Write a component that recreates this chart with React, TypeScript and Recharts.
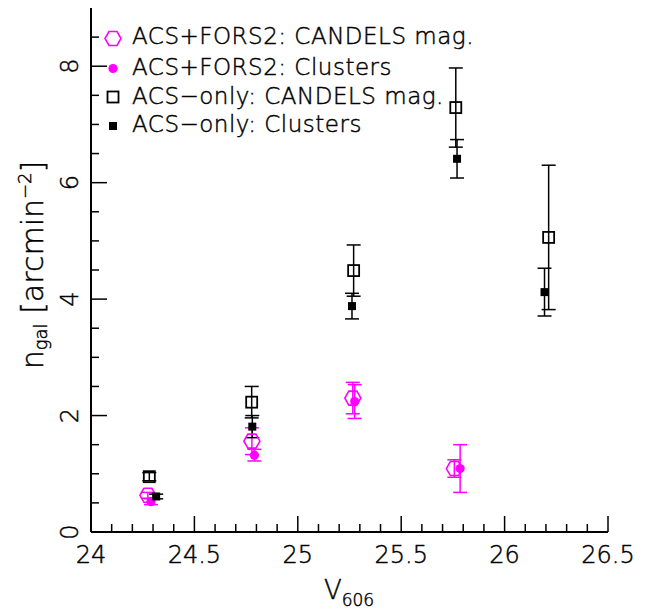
import React from 'react';
import { ScatterChart, Scatter, XAxis, YAxis, ErrorBar, Legend } from 'recharts';

// ---- data ----
const hexX = [24.275, 24.778, 25.266, 25.757];
const hexY = [0.63, 1.56, 2.3, 1.09];
const hexErr = [0.05, 0.23, 0.27, 0.15];

const circX = [24.29, 24.79, 25.275, 25.785];
const circY = [0.52, 1.32, 2.24, 1.09];
const circErr = [0.05, 0.1, 0.29, 0.41];

const osqX = [24.282, 24.777, 25.27, 25.764, 26.213];
const osqY = [0.95, 2.23, 4.49, 7.29, 5.06];
const osqErr = [0.07, 0.27, 0.44, 0.68, 1.24];

const fsqX = [24.315, 24.78, 25.262, 25.77, 26.193];
const fsqY = [0.61, 1.81, 3.88, 6.41, 4.12];
const fsqErr = [0.04, 0.19, 0.22, 0.33, 0.41];

const xMajorTicks = [24, 24.5, 25, 25.5, 26, 26.5];
const xMinorTicks = [24.1, 24.2, 24.3, 24.4, 24.6, 24.7, 24.8, 24.9, 25.1, 25.2, 25.3, 25.4, 25.6, 25.7, 25.8, 25.9, 26.1, 26.2, 26.3, 26.4];
const yMajorTicks = [0, 2, 4, 6, 8];
const yMinorTicks = [0.5, 1, 1.5, 2.5, 3, 3.5, 4.5, 5, 5.5, 6.5, 7, 7.5, 8.5];

const legendLabels = [
  'ACS+FORS2: CANDELS mag.',
  'ACS+FORS2: Clusters',
  'ACS\u2212only: CANDELS mag.',
  'ACS\u2212only: Clusters',
];

const MAGENTA = '#ff00ff';
const BLACK = '#000000';
const FONT = '"DejaVu Sans", sans-serif';
const WEIGHT = 200;
const TXT_STROKE = 0.45;

const rows = (xs: number[], ys: number[], es: number[]) =>
  xs.map((x, i) => ({ x, y: ys[i], err: es[i] }));

const hexData = rows(hexX, hexY, hexErr);
const circData = rows(circX, circY, circErr);
const osqData = rows(osqX, osqY, osqErr);
const fsqData = rows(fsqX, fsqY, fsqErr);

const xTicks = [...xMajorTicks, ...xMinorTicks].sort((a, b) => a - b);
const yTicks = [...yMajorTicks, ...yMinorTicks].sort((a, b) => a - b);

const isMajor = (v: number, majors: number[]) => majors.some((m) => Math.abs(m - v) < 1e-6);

// ---- marker shapes ----
const hexPath = (cx: number, cy: number) =>
  `M${cx - 8},${cy} L${cx - 4},${cy - 7} L${cx + 4},${cy - 7} L${cx + 8},${cy} L${cx + 4},${cy + 7} L${cx - 4},${cy + 7} Z`;

const HexShape = (p: any) => (
  <path d={hexPath(p.cx, p.cy)} fill="none" stroke={MAGENTA} strokeWidth={1.6} />
);
const CircShape = (p: any) => <circle cx={p.cx} cy={p.cy} r={4.6} fill={MAGENTA} />;
const OSqShape = (p: any) => (
  <rect x={p.cx - 5.5} y={p.cy - 5.5} width={11} height={11} fill="none" stroke={BLACK} strokeWidth={1.8} />
);
const FSqShape = (p: any) => <rect x={p.cx - 4} y={p.cy - 4} width={8} height={8} fill={BLACK} />;

const shapes = [HexShape, CircShape, OSqShape, FSqShape];

const txt = { fontFamily: FONT, fontWeight: WEIGHT, fill: BLACK, stroke: BLACK, strokeWidth: TXT_STROKE };

// ---- tick renderers ----
const BottomTick = (p: any) => {
  const { x, y, payload } = p;
  const major = isMajor(payload.value, xMajorTicks);
  return (
    <g>
      <line x1={x} x2={x} y1={y} y2={y - (major ? 16 : 8)} stroke={BLACK} strokeWidth={1.5} />
      {major && (
        <text x={x} y={y + 31} textAnchor="middle" fontSize={24} {...txt}>
          {String(payload.value)}
        </text>
      )}
    </g>
  );
};
const TopTick = (p: any) => {
  const { x, y, payload } = p;
  const major = isMajor(payload.value, xMajorTicks);
  return <line x1={x} x2={x} y1={y} y2={y + (major ? 16 : 8)} stroke={BLACK} strokeWidth={1.5} />;
};
const LeftTick = (p: any) => {
  const { x, y, payload } = p;
  const major = isMajor(payload.value, yMajorTicks);
  return (
    <g>
      <line x1={x} x2={x + (major ? 16 : 8)} y1={y} y2={y} stroke={BLACK} strokeWidth={1.5} />
      {major && (
        <text
          x={x - 13}
          y={y}
          transform={`rotate(-90, ${x - 13}, ${y})`}
          textAnchor="middle"
          fontSize={24}
          {...txt}
        >
          {String(payload.value)}
        </text>
      )}
    </g>
  );
};
const RightTick = (p: any) => {
  const { x, y, payload } = p;
  const major = isMajor(payload.value, yMajorTicks);
  return <line x1={x} x2={x - (major ? 16 : 8)} y1={y} y2={y} stroke={BLACK} strokeWidth={1.5} />;
};

const XLabel = () => (
  <text x={349} y={599} textAnchor="middle" fontSize={26} {...txt}>
    <tspan>V</tspan>
    <tspan fontSize={17} dy={7}>606</tspan>
  </text>
);

const YLabel = () => (
  <text transform="translate(43, 265) rotate(-90)" textAnchor="middle" fontSize={30} {...txt}>
    <tspan>n</tspan>
    <tspan fontSize={18} dy={4}>gal</tspan>
    <tspan dy={-4}> [arcmin</tspan>
    <tspan fontSize={18} dy={-12}>{'\u22122'}</tspan>
    <tspan dy={12}>]</tspan>
  </text>
);

const legendMarkerY = [38.5, 68.5, 97, 126];
const legendBaseY = [43.5, 75, 103.5, 132];

const LegendContent = () => (
  <svg width={560} height={145} style={{ display: 'block' }}>
    {legendLabels.map((lab, i) => {
      const Shape = shapes[i];
      return (
        <g key={lab}>
          <Shape cx={113} cy={legendMarkerY[i]} />
          <text x={132} y={legendBaseY[i]} fontSize={23} letterSpacing={0.5} {...txt}>
            {lab}
          </text>
        </g>
      );
    })}
  </svg>
);

const axisLine = { stroke: BLACK, strokeWidth: 2 };

export default function App() {
  return (
    <div style={{ position: 'absolute', left: 0, top: 0, width: 652, height: 612, background: '#fff', fontFamily: FONT }}>
      <ScatterChart width={652} height={612} margin={{ top: 8, right: 44, bottom: 0, left: 0 }}>
        <XAxis
          xAxisId="b"
          type="number"
          dataKey="x"
          orientation="bottom"
          domain={[24, 26.5]}
          allowDataOverflow
          ticks={xTicks}
          interval={0}
          height={80}
          tickSize={0}
          tickMargin={0}
          tickLine={false}
          axisLine={axisLine}
          tick={<BottomTick />}
          label={<XLabel />}
        />
        <XAxis
          xAxisId="t"
          type="number"
          dataKey="x"
          orientation="top"
          domain={[24, 26.5]}
          allowDataOverflow
          ticks={xTicks}
          interval={0}
          height={0}
          tickSize={0}
          tickMargin={0}
          tickLine={false}
          axisLine={axisLine}
          tick={<TopTick />}
        />
        <YAxis
          yAxisId="l"
          type="number"
          dataKey="y"
          orientation="left"
          domain={[0, 9]}
          allowDataOverflow
          ticks={yTicks}
          interval={0}
          width={91}
          tickSize={0}
          tickMargin={0}
          tickLine={false}
          axisLine={axisLine}
          tick={<LeftTick />}
          label={<YLabel />}
        />
        <YAxis
          yAxisId="r"
          type="number"
          dataKey="y"
          orientation="right"
          domain={[0, 9]}
          allowDataOverflow
          ticks={yTicks}
          interval={0}
          width={0}
          tickSize={0}
          tickMargin={0}
          tickLine={false}
          axisLine={axisLine}
          tick={<RightTick />}
        />
        <Legend
          layout="vertical"
          align="center"
          verticalAlign="middle"
          content={() => <LegendContent />}
          wrapperStyle={{ position: 'absolute', left: 0, top: 0, right: 'auto', bottom: 'auto', width: 560, height: 145, pointerEvents: 'none' }}
        />
        <Scatter data={hexData} xAxisId="b" yAxisId="l" shape={HexShape} isAnimationActive={false} legendType="none">
          <ErrorBar dataKey="err" direction="y" width={7} stroke={MAGENTA} strokeWidth={1.5} />
        </Scatter>
        <Scatter data={circData} xAxisId="t" yAxisId="r" shape={CircShape} isAnimationActive={false} legendType="none">
          <ErrorBar dataKey="err" direction="y" width={7} stroke={MAGENTA} strokeWidth={1.5} />
        </Scatter>
        <Scatter data={osqData} xAxisId="b" yAxisId="l" shape={OSqShape} isAnimationActive={false} legendType="none">
          <ErrorBar dataKey="err" direction="y" width={7} stroke={BLACK} strokeWidth={1.5} />
        </Scatter>
        <Scatter data={fsqData} xAxisId="t" yAxisId="r" shape={FSqShape} isAnimationActive={false} legendType="none">
          <ErrorBar dataKey="err" direction="y" width={7} stroke={BLACK} strokeWidth={1.5} />
        </Scatter>
      </ScatterChart>
    </div>
  );
}
